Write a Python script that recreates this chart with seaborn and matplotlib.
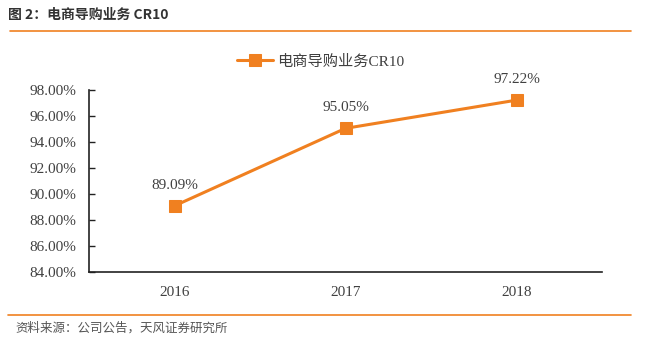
import matplotlib.pyplot as plt
import seaborn as sns
import pandas as pd

years = ['2016', '2017', '2018']
cr10 = [89.09, 95.05, 97.22]
series_name = '电商导购业务CR10'

sns.set_style('white')
plt.rcParams['font.family'] = ['Liberation Serif', 'Noto Sans CJK SC']
orange = '#F08020'
text_col = '#404040'

df = pd.DataFrame({'year': years, 'value': cr10})

fig = plt.figure(figsize=(6.58, 3.64), dpi=100)
ax = fig.add_axes([89 / 658, 1 - 272 / 364, 513 / 658, 182 / 364])

sns.lineplot(data=df, x='year', y='value', ax=ax, color=orange, linewidth=2.2,
             marker='s', markersize=8, markeredgecolor=orange, label=series_name)

for x, v in zip(years, cr10):
    ax.annotate(f'{v:.2f}%', (x, v), xytext=(0, 10), textcoords='offset points',
                ha='center', va='bottom', fontsize=11, color=text_col)

ax.set_xlim(-0.5, 2.5)
ax.set_ylim(84, 98)
ax.set_yticks(range(84, 99, 2))
ax.set_yticklabels([f'{t:.2f}%' for t in range(84, 99, 2)])
ax.set_xlabel('')
ax.set_ylabel('')
ax.tick_params(axis='y', direction='in', length=4, width=1, color='#222222',
               labelsize=11, labelcolor=text_col, pad=9, left=True)
ax.tick_params(axis='x', length=0, labelsize=11, labelcolor=text_col, pad=10)
for s in ['top', 'right']:
    ax.spines[s].set_visible(False)
for s in ['left', 'bottom']:
    ax.spines[s].set_color('#222222')
    ax.spines[s].set_linewidth(1.2)

leg = ax.legend(loc='upper center', bbox_to_anchor=(0.452, 1.27), frameon=False,
                fontsize=11, handlelength=2.3, handletextpad=0.3, labelcolor=text_col)
for t in leg.get_texts():
    t.set_family(['Liberation Serif', 'Noto Sans CJK SC'])

# header and footer
fig.text(8 / 658, 1 - 15 / 364, '图 2：电商导购业务 CR10', fontsize=10, fontweight='bold',
         color='#333333', va='center', family=['Noto Sans CJK SC'])
fig.add_artist(plt.Line2D([10 / 658, 631 / 658], [1 - 31 / 364] * 2, color=orange, linewidth=1.2))
fig.add_artist(plt.Line2D([8 / 658, 631 / 658], [1 - 315 / 364] * 2, color=orange, linewidth=1.2))
fig.text(15 / 658, 1 - 328 / 364, '资料来源：公司公告，天风证券研究所', fontsize=9,
         color='#555555', va='center', family=['Noto Sans CJK SC'])

fig.savefig('out.png', dpi=100)
